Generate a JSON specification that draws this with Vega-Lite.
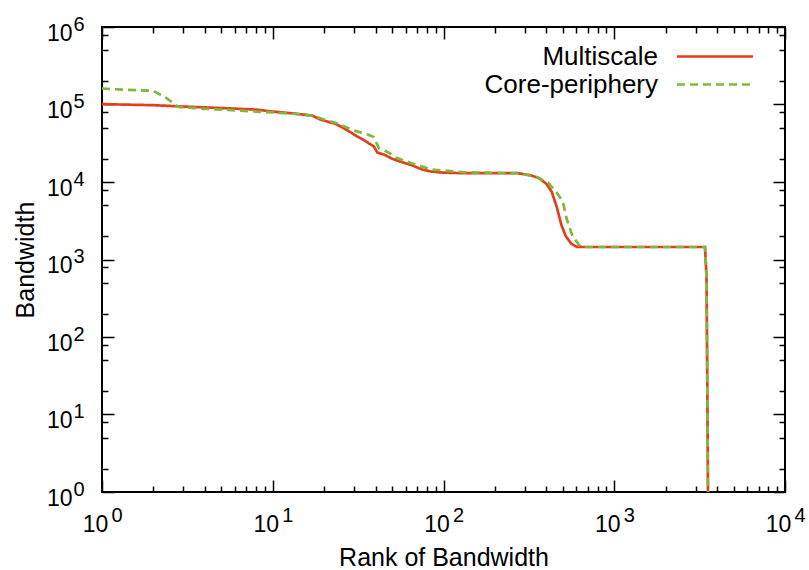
{
  "$schema": "https://vega.github.io/schema/vega-lite/v6.json",
  "width": 683,
  "height": 465,
  "autosize": {"type": "none"},
  "padding": {"left": 102, "top": 27, "right": 24, "bottom": 78},
  "background": "white",
  "config": {
    "font": "Liberation Sans",
    "view": {"stroke": "black", "strokeWidth": 2},
    "axis": {
      "domain": false,
      "grid": false,
      "tickColor": "black",
      "tickWidth": 1.5,
      "labelFont": "Liberation Sans",
      "labelFontSize": 23,
      "labelColor": "black",
      "titleFont": "Liberation Sans",
      "titleFontSize": 25,
      "titleFontWeight": "normal",
      "titleColor": "black"
    }
  },
  "data": {
    "values": [
      {"series": "Multiscale", "rank": 1, "bw": 101000},
      {"series": "Multiscale", "rank": 2, "bw": 98000},
      {"series": "Multiscale", "rank": 3, "bw": 94000},
      {"series": "Multiscale", "rank": 5, "bw": 90000},
      {"series": "Multiscale", "rank": 8, "bw": 86000},
      {"series": "Multiscale", "rank": 10, "bw": 81000},
      {"series": "Multiscale", "rank": 13, "bw": 77000},
      {"series": "Multiscale", "rank": 17, "bw": 72000},
      {"series": "Multiscale", "rank": 19, "bw": 64000},
      {"series": "Multiscale", "rank": 21, "bw": 60000},
      {"series": "Multiscale", "rank": 23, "bw": 57000},
      {"series": "Multiscale", "rank": 25, "bw": 52000},
      {"series": "Multiscale", "rank": 27, "bw": 47000},
      {"series": "Multiscale", "rank": 29, "bw": 43000},
      {"series": "Multiscale", "rank": 31, "bw": 39000},
      {"series": "Multiscale", "rank": 34, "bw": 35000},
      {"series": "Multiscale", "rank": 37, "bw": 31000},
      {"series": "Multiscale", "rank": 39, "bw": 29000},
      {"series": "Multiscale", "rank": 41, "bw": 24000},
      {"series": "Multiscale", "rank": 45, "bw": 22500},
      {"series": "Multiscale", "rank": 50, "bw": 20000},
      {"series": "Multiscale", "rank": 55, "bw": 18500},
      {"series": "Multiscale", "rank": 65, "bw": 16500},
      {"series": "Multiscale", "rank": 75, "bw": 14500},
      {"series": "Multiscale", "rank": 85, "bw": 13600},
      {"series": "Multiscale", "rank": 100, "bw": 13200},
      {"series": "Multiscale", "rank": 130, "bw": 13000},
      {"series": "Multiscale", "rank": 200, "bw": 13000},
      {"series": "Multiscale", "rank": 270, "bw": 13000},
      {"series": "Multiscale", "rank": 320, "bw": 12300},
      {"series": "Multiscale", "rank": 360, "bw": 11300},
      {"series": "Multiscale", "rank": 400, "bw": 9500},
      {"series": "Multiscale", "rank": 430, "bw": 7500},
      {"series": "Multiscale", "rank": 460, "bw": 4800},
      {"series": "Multiscale", "rank": 490, "bw": 2800},
      {"series": "Multiscale", "rank": 520, "bw": 2000},
      {"series": "Multiscale", "rank": 560, "bw": 1600},
      {"series": "Multiscale", "rank": 600, "bw": 1460},
      {"series": "Multiscale", "rank": 650, "bw": 1450},
      {"series": "Multiscale", "rank": 1000, "bw": 1450},
      {"series": "Multiscale", "rank": 2000, "bw": 1450},
      {"series": "Multiscale", "rank": 3400, "bw": 1450},
      {"series": "Multiscale", "rank": 3470, "bw": 600},
      {"series": "Multiscale", "rank": 3500, "bw": 50},
      {"series": "Multiscale", "rank": 3540, "bw": 1},
      {"series": "Core-periphery", "rank": 1, "bw": 160000},
      {"series": "Core-periphery", "rank": 2, "bw": 150000},
      {"series": "Core-periphery", "rank": 2.4, "bw": 120000},
      {"series": "Core-periphery", "rank": 2.8, "bw": 93000},
      {"series": "Core-periphery", "rank": 4, "bw": 88000},
      {"series": "Core-periphery", "rank": 6, "bw": 84000},
      {"series": "Core-periphery", "rank": 10, "bw": 79000},
      {"series": "Core-periphery", "rank": 13, "bw": 76000},
      {"series": "Core-periphery", "rank": 17, "bw": 72000},
      {"series": "Core-periphery", "rank": 20, "bw": 64000},
      {"series": "Core-periphery", "rank": 24, "bw": 57000},
      {"series": "Core-periphery", "rank": 30, "bw": 46000},
      {"series": "Core-periphery", "rank": 36, "bw": 41000},
      {"series": "Core-periphery", "rank": 39, "bw": 38000},
      {"series": "Core-periphery", "rank": 42, "bw": 27000},
      {"series": "Core-periphery", "rank": 47, "bw": 24500},
      {"series": "Core-periphery", "rank": 53, "bw": 20500},
      {"series": "Core-periphery", "rank": 65, "bw": 17500},
      {"series": "Core-periphery", "rank": 85, "bw": 14500},
      {"series": "Core-periphery", "rank": 130, "bw": 13400},
      {"series": "Core-periphery", "rank": 200, "bw": 13100},
      {"series": "Core-periphery", "rank": 280, "bw": 13000},
      {"series": "Core-periphery", "rank": 353, "bw": 11500},
      {"series": "Core-periphery", "rank": 410, "bw": 9800},
      {"series": "Core-periphery", "rank": 460, "bw": 7300},
      {"series": "Core-periphery", "rank": 500, "bw": 5600},
      {"series": "Core-periphery", "rank": 525, "bw": 3400},
      {"series": "Core-periphery", "rank": 570, "bw": 2000},
      {"series": "Core-periphery", "rank": 630, "bw": 1480},
      {"series": "Core-periphery", "rank": 660, "bw": 1450},
      {"series": "Core-periphery", "rank": 1000, "bw": 1450},
      {"series": "Core-periphery", "rank": 2000, "bw": 1450},
      {"series": "Core-periphery", "rank": 3400, "bw": 1450},
      {"series": "Core-periphery", "rank": 3470, "bw": 600},
      {"series": "Core-periphery", "rank": 3500, "bw": 50},
      {"series": "Core-periphery", "rank": 3540, "bw": 1}
    ]
  },
  "layer": [
    {
      "mark": {"type": "line", "strokeWidth": 2.7, "clip": true},
      "encoding": {
        "x": {
          "field": "rank",
          "type": "quantitative",
          "scale": {"type": "log", "domain": [1, 10000], "nice": false},
          "axis": {
            "orient": "bottom",
            "title": "Rank of Bandwidth",
            "titleY": 53,
            "tickSize": {"condition": {"test": "abs(log(datum.value)/LN10 - round(log(datum.value)/LN10)) < 0.001", "value": -12}, "value": -6},
            "labelPadding": 33,
            "labelOffset": -7,
            "values": [1,2,3,4,5,6,7,8,9,10,20,30,40,50,60,70,80,90,100,200,300,400,500,600,700,800,900,1000,2000,3000,4000,5000,6000,7000,8000,9000,10000],
            "labelExpr": "abs(log(datum.value)/LN10 - round(log(datum.value)/LN10)) < 0.001 ? '10' : ''",
            "labelFlush": false,
            "labelOverlap": false
          }
        },
        "y": {
          "field": "bw",
          "type": "quantitative",
          "scale": {"type": "log", "domain": [1, 1000000], "nice": false},
          "axis": {
            "orient": "left",
            "title": "Bandwidth",
            "titleX": -64,
            "tickSize": {"condition": {"test": "abs(log(datum.value)/LN10 - round(log(datum.value)/LN10)) < 0.001", "value": -12}, "value": -6},
            "labelPadding": 42,
            "labelOffset": 6,
            "values": [1,2,5,8,10,20,50,80,100,200,500,800,1000,2000,5000,8000,10000,20000,50000,80000,100000,200000,500000,800000,1000000],
            "labelExpr": "abs(log(datum.value)/LN10 - round(log(datum.value)/LN10)) < 0.001 ? '10' : ''",
            "labelFlush": false,
            "labelOverlap": false
          }
        },
        "color": {
          "field": "series",
          "type": "nominal",
          "sort": ["Multiscale", "Core-periphery"],
          "scale": {"domain": ["Multiscale", "Core-periphery"], "range": ["#e2401c", "#80b83a"]},
          "legend": {
            "orient": "none",
            "legendX": 598.5,
            "legendY": 15,
            "title": null,
            "padding": 0,
            "symbolType": "M-2.923,0H2.923",
            "symbolSize": 676,
            "symbolStrokeWidth": 2.7,
            "labelFont": "Liberation Sans",
            "labelFontSize": 26,
            "labelColor": "black",
            "labelAlign": "right",
            "labelOffset": -71.5,
            "labelLimit": 300,
            "rowPadding": 0
          }
        },
        "strokeDash": {
          "field": "series",
          "type": "nominal",
          "sort": ["Multiscale", "Core-periphery"],
          "scale": {"domain": ["Multiscale", "Core-periphery"], "range": [[1, 0], [8, 5]]},
          "legend": {
            "orient": "none",
            "legendX": 598.5,
            "legendY": 15,
            "title": null,
            "padding": 0,
            "symbolType": "M-2.923,0H2.923",
            "symbolSize": 676,
            "symbolStrokeWidth": 2.7,
            "labelFont": "Liberation Sans",
            "labelFontSize": 26,
            "labelColor": "black",
            "labelAlign": "right",
            "labelOffset": -71.5,
            "labelLimit": 300,
            "rowPadding": 0
          }
        }
      }
    },
    {
      "mark": {"type": "line", "opacity": 0},
      "encoding": {
        "x": {
          "field": "rank",
          "type": "quantitative",
          "scale": {"type": "log", "domain": [1, 10000], "nice": false},
          "axis": {
            "orient": "top",
            "title": null,
            "labels": false,
            "tickSize": {"condition": {"test": "abs(log(datum.value)/LN10 - round(log(datum.value)/LN10)) < 0.001", "value": -12}, "value": -6},
            "values": [1,2,3,4,5,6,7,8,9,10,20,30,40,50,60,70,80,90,100,200,300,400,500,600,700,800,900,1000,2000,3000,4000,5000,6000,7000,8000,9000,10000]
          }
        },
        "y": {
          "field": "bw",
          "type": "quantitative",
          "scale": {"type": "log", "domain": [1, 1000000], "nice": false},
          "axis": {
            "orient": "right",
            "title": null,
            "labels": false,
            "tickSize": {"condition": {"test": "abs(log(datum.value)/LN10 - round(log(datum.value)/LN10)) < 0.001", "value": -12}, "value": -6},
            "values": [1,2,5,8,10,20,50,80,100,200,500,800,1000,2000,5000,8000,10000,20000,50000,80000,100000,200000,500000,800000,1000000]
          }
        }
      }
    },
    {
      "mark": {"type": "line", "opacity": 0},
      "encoding": {
        "x": {
          "field": "rank",
          "type": "quantitative",
          "scale": {"type": "log", "domain": [1, 10000], "nice": false},
          "axis": {
            "orient": "bottom",
            "title": null,
            "ticks": false,
            "labelFontSize": 20,
            "labelPadding": 13.5,
            "labelOffset": 14.5,
            "values": [1,10,100,1000,10000],
            "labelExpr": "'' + round(log(datum.value)/LN10)",
            "labelFlush": false,
            "labelOverlap": false
          }
        },
        "y": {
          "field": "bw",
          "type": "quantitative",
          "scale": {"type": "log", "domain": [1, 1000000], "nice": false},
          "axis": {
            "orient": "left",
            "title": null,
            "ticks": false,
            "labelFontSize": 20,
            "labelPadding": 18,
            "labelOffset": -2.6,
            "values": [1,10,100,1000,10000,100000,1000000],
            "labelExpr": "'' + round(log(datum.value)/LN10)",
            "labelFlush": false,
            "labelOverlap": false
          }
        }
      }
    }
  ],
  "resolve": {"axis": {"x": "independent", "y": "independent"}}
}
